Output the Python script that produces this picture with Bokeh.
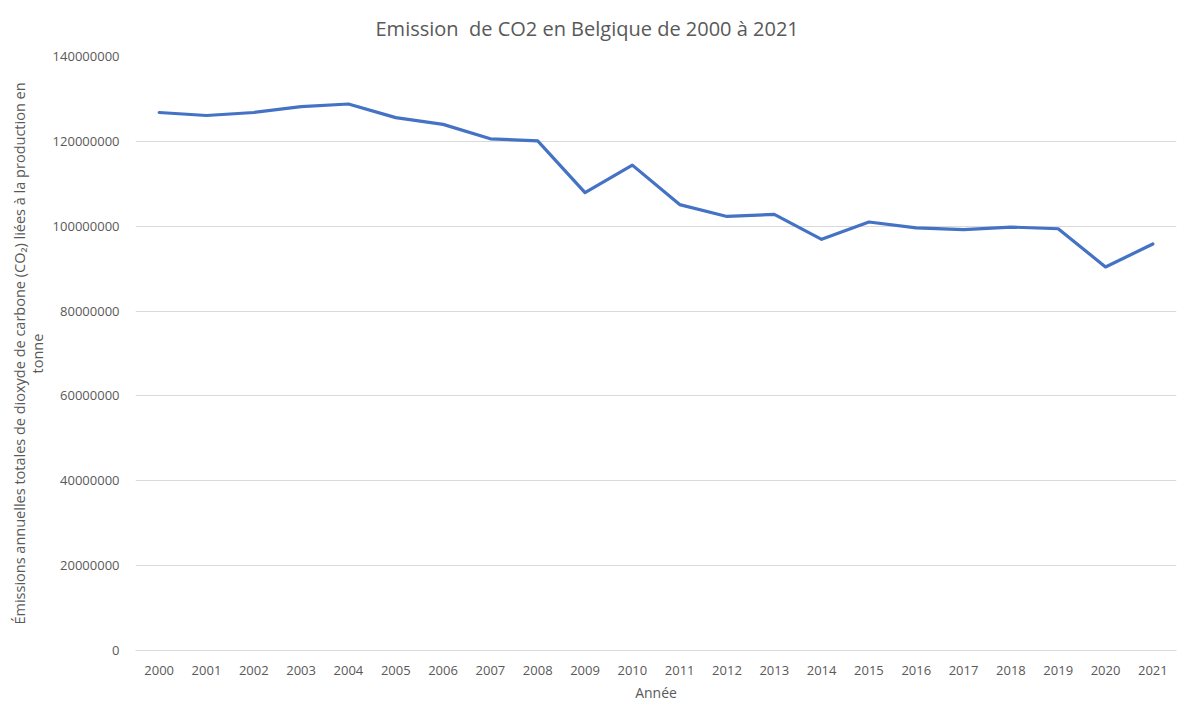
from bokeh.plotting import figure
from bokeh.models import FixedTicker, BasicTickFormatter, Range1d, Title
from bokeh.embed import file_html
from bokeh.resources import INLINE

years = [str(y) for y in range(2000, 2022)]
emissions = [126.8e6, 126.1e6, 126.8e6, 128.2e6, 128.8e6, 125.6e6, 124.0e6, 120.6e6,
             120.1e6, 107.9e6, 114.4e6, 105.1e6, 102.3e6, 102.8e6, 96.9e6, 101.0e6,
             99.6e6, 99.2e6, 99.8e6, 99.4e6, 90.4e6, 95.8e6]
y_ticks = [0, 20000000, 40000000, 60000000, 80000000, 100000000, 120000000, 140000000]
title_text = "Emission\u00a0 de CO2 en Belgique de 2000 à 2021"

FONT = "Open Sans"
GREY = "#595959"

p = figure(width=1187, height=704, x_range=years, y_range=Range1d(0, 140000000),
           output_backend="svg", toolbar_location=None,
           min_border_left=135, min_border_right=11, min_border_top=56, min_border_bottom=53)
p.x_range.range_padding = 0
p.line(years, emissions, line_color="#4472C4", line_width=3.2, line_join="round", line_cap="round")

p.title = Title(text=title_text, align="left", offset=240, vertical_align="top",
                text_font=FONT, text_font_size="20px", text_font_style="normal",
                text_color=GREY, standoff=26)

p.outline_line_color = None
p.xgrid.grid_line_color = None
p.ygrid.grid_line_color = "#d9d9d9"
p.ygrid.grid_line_width = 1

p.yaxis.ticker = FixedTicker(ticks=y_ticks)
p.yaxis.formatter = BasicTickFormatter(use_scientific=False)
p.yaxis.axis_line_color = None
p.yaxis.major_tick_line_color = None
p.yaxis.minor_tick_line_color = None
p.yaxis.major_label_text_font = FONT
p.yaxis.major_label_text_font_size = "13px"
p.yaxis.major_label_text_color = GREY
p.yaxis.major_label_standoff = 10
p.yaxis.axis_label = "Émissions annuelles totales de dioxyde de carbone (CO₂) liées à la production en\ntonne"
p.yaxis.axis_label_text_font = FONT
p.yaxis.axis_label_text_font_size = "14.5px"
p.yaxis.axis_label_text_font_style = "normal"
p.yaxis.axis_label_text_color = GREY
p.yaxis.axis_label_text_line_height = 0.9
p.yaxis.axis_label_standoff = 3

p.xaxis.axis_line_color = "#d9d9d9"
p.xaxis.major_tick_line_color = None
p.xaxis.minor_tick_line_color = None
p.xaxis.major_label_text_font = FONT
p.xaxis.major_label_text_font_size = "13px"
p.xaxis.major_label_text_color = GREY
p.xaxis.major_label_standoff = 9
p.xaxis.axis_label = "Année"
p.xaxis.axis_label_text_font = FONT
p.xaxis.axis_label_text_font_size = "14px"
p.xaxis.axis_label_text_font_style = "normal"
p.xaxis.axis_label_text_color = GREY
p.xaxis.axis_label_standoff = 5

open("out.html", "w").write(file_html(p, INLINE))
